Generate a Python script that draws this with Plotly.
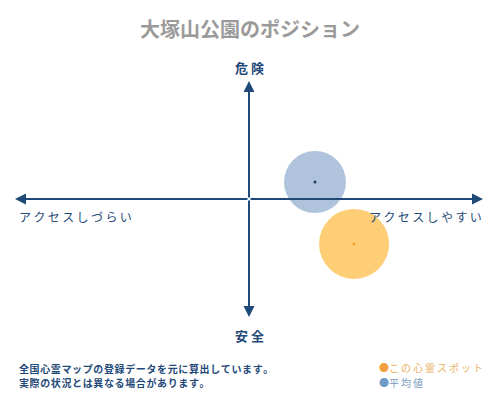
import plotly.graph_objects as go

# positions on the access (x) / danger (y) plane, -10..10 on each axis
series = ['平均値', 'この心霊スポット']
x_vals = [2.82, 4.49]
y_vals = [1.44, -3.81]
bubble_px = [62, 70]
fills = ['rgba(122,155,196,0.6)', 'rgba(253,185,60,0.7)']
dots = ['#1c3f66', '#f5a623']

note_lines = ['全国心霊マップの登録データを元に算出しています。', '実際の状況とは異なる場合があります。']

navy = '#1f4a78'
font = 'Noto Sans CJK JP'
thin = '\u2009'
hair = '\u200a'

# page body has an 8px margin, so the figure is shrunk by that much
W, H = 484, 384


def px(x):
    # reference pixel -> paper x (plot area spans 15..483)
    return (x - 15) / 468


def py(y):
    # reference pixel -> paper y (plot area spans 81..317)
    return (317 - y) / 236


def spaced(s, sep=thin):
    return sep.join(s)


def label(text, x, y, size, color, anchor='center', **kw):
    fig.add_annotation(text=text, x=px(x), y=py(y), xref='paper', yref='paper',
                       xanchor=anchor, yanchor='middle', showarrow=False,
                       font=dict(size=size, color=color, family=font), **kw)


fig = go.Figure()

for name, x, y, s, f, d in zip(series, x_vals, y_vals, bubble_px, fills, dots):
    fig.add_trace(go.Scatter(x=[x], y=[y], mode='markers', name=name,
                             marker=dict(size=s, color=f, line=dict(width=0))))
    fig.add_trace(go.Scatter(x=[x], y=[y], mode='markers', showlegend=False,
                             marker=dict(size=3, color=d)))

# axis arrows drawn from the centre outwards
for ex, ey in [(10, 0), (-10, 0), (0, 10), (0, -10)]:
    fig.add_annotation(x=ex, y=ey, ax=0, ay=0, xref='x', yref='y', axref='x', ayref='y',
                       showarrow=True, arrowhead=2, arrowsize=1.1, arrowwidth=2,
                       arrowcolor=navy, text='')

label('<b>危 険</b>', 249, 68, 13, navy)
label('<b>安 全</b>', 249, 335, 13, navy)
label(spaced('アクセスしづらい'), 17, 216, 12, navy, 'left')
label(spaced('アクセスしやすい'), 484, 216, 12, navy, 'right')

label('<b>' + spaced(note_lines[0], hair) + '</b>', 17, 368, 10, navy, 'left')
label('<b>' + spaced(note_lines[1], hair) + '</b>', 17, 382, 10, navy, 'left')

label('<span style="color:#f0a040">●</span>' + spaced('この心霊スポット'), 377, 367, 10, '#e8b060', 'left')
label('<span style="color:#6f9ac4">●</span>' + spaced('平均値'), 377, 382, 10, '#7a9cc0', 'left')

fig.update_layout(
    width=W, height=H,
    title=dict(text='<b>大塚山公園のポジション</b>', x=(250 - 8) / W, y=1 - (30 - 8) / H,
               xanchor='center', yanchor='middle',
               font=dict(size=20, color='#9a9a9a', family=font)),
    margin=dict(l=7, r=9, t=73, b=75),
    plot_bgcolor='white', paper_bgcolor='white',
    showlegend=False,
    xaxis=dict(range=[-10, 10], visible=False, fixedrange=True),
    yaxis=dict(range=[-10, 10], visible=False, fixedrange=True),
)

fig.write_html("out.html")
